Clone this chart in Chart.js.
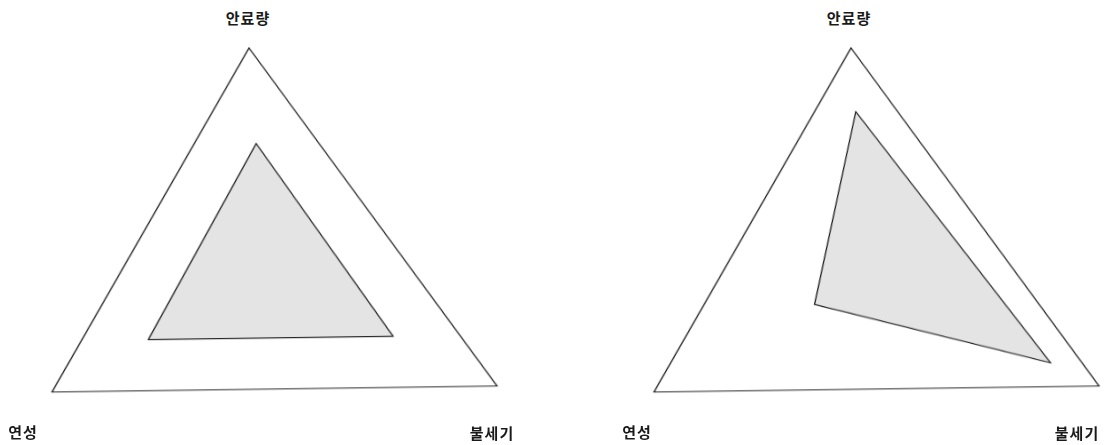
<!DOCTYPE html>
<html lang="ko">
<head>
<meta charset="UTF-8">
<title>안료량 · 불세기 · 연성</title>
<script src="https://cdn.jsdelivr.net/npm/chart.js"></script>
<style>
  body {
    margin: 0;
    width: 1110px;
    height: 445px;
    overflow: hidden;
    background: #fff;
    font-family: "Noto Sans CJK KR", "Noto Sans", sans-serif;
  }
  .panel {
    position: absolute;
    top: 0;
    width: 555px;
    height: 445px;
    overflow: hidden;
  }
  /* flatten and lean the radar a little so it sits like a drawn triangle */
  .panel canvas {
    position: absolute;
    left: 0;
    top: 0;
    transform-origin: 0 0;
    transform: matrix(0.9997, -0.0135, 0.0662, 0.8846, -18.6, 42.75);
  }
  .lbl {
    position: absolute;
    transform: translate(-50%, -50%);
    font-size: 15px;
    font-weight: 700;
    letter-spacing: 1px;
    color: #1a1a1a;
    white-space: nowrap;
  }
</style>
</head>
<body>
<div class="panel" style="left:0"><canvas id="radarA" width="534" height="534"></canvas></div>
<div class="panel" style="left:602px"><canvas id="radarB" width="534" height="534"></canvas></div>
<script>
  const axisLabels = ['안료량', '불세기', '연성'];
  const leftValues = [5.8, 5.5, 5.5];
  const rightValues = [7.2, 7.9, 2.5];
  const scaleMax = 10;

  // where each axis name sits on the page, per panel (same order as axisLabels)
  const labelSpots = [
    [[248, 17], [492, 432], [23, 431]],
    [[849, 17], [1077, 432], [637, 431]]
  ];

  function makeRadar(id, values) {
    const ctx = document.getElementById(id).getContext('2d');
    return new Chart(ctx, {
      type: 'radar',
      data: {
        labels: axisLabels,
        datasets: [{
          data: values,
          fill: true,
          backgroundColor: '#e4e4e4',
          borderColor: '#111',
          borderWidth: 1.2,
          pointRadius: 0,
          pointHoverRadius: 0
        }]
      },
      options: {
        responsive: false,
        animation: false,
        layout: { padding: 10 },
        plugins: {
          legend: { display: false },
          tooltip: { enabled: false }
        },
        scales: {
          r: {
            min: 0,
            max: scaleMax,
            ticks: { display: false, stepSize: scaleMax },
            angleLines: { display: false },
            grid: { color: '#111', lineWidth: 1.2 },
            pointLabels: { display: false }
          }
        }
      }
    });
  }

  makeRadar('radarA', leftValues);
  makeRadar('radarB', rightValues);

  labelSpots.forEach(spots => {
    spots.forEach((pos, i) => {
      const el = document.createElement('div');
      el.className = 'lbl';
      el.textContent = axisLabels[i];
      el.style.left = pos[0] + 'px';
      el.style.top = pos[1] + 'px';
      document.body.appendChild(el);
    });
  });
</script>
</body>
</html>
